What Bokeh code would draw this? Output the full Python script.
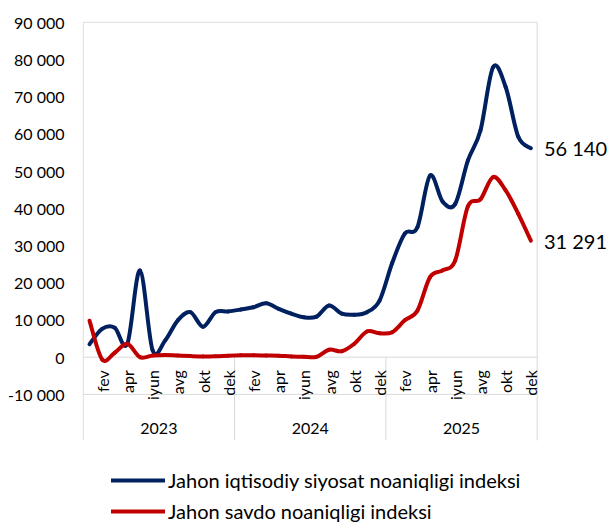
import numpy as np
from bokeh.plotting import figure
from bokeh.models import (ColumnDataSource, FixedTicker, Label, Legend, LegendItem, Range1d)
from bokeh.core.properties import value
from bokeh.embed import file_html
from bokeh.resources import INLINE

# ---------------- data ----------------
years = ["2023", "2024", "2025"]
month_names = ["yan", "fev", "mar", "apr", "may", "iyun",
               "iyul", "avg", "sen", "okt", "noy", "dek"]
shown_months = ["fev", "apr", "iyun", "avg", "okt", "dek"]

# Jahon iqtisodiy siyosat noaniqligi indeksi (monthly, Jan 2023 - Dec 2025)
epu = [3500, 7600, 7900, 3600, 23300, 1900, 4500, 9900, 12100, 8200, 12100, 12300,
       12800, 13400, 14500, 13000, 11700, 10700, 10900, 13900, 11700, 11400, 12100, 15200,
       25300, 33200, 34900, 48800, 41800, 41200, 52800, 60900, 77900, 72600, 59200, 56140]
# Jahon savdo noaniqligi indeksi
tpu = [9800, -600, 1200, 3600, 0, 450, 600, 450, 300, 200, 250, 400,
       500, 500, 450, 400, 200, 100, 100, 2000, 1600, 3600, 6900, 6400,
       6700, 9900, 12500, 21500, 23300, 26000, 40500, 42400, 48400, 44800, 38500, 31291]

series_names = ["Jahon iqtisodiy siyosat noaniqligi indeksi",
                "Jahon savdo noaniqligi indeksi"]
series_colors = ["#002060", "#C00000"]

y_ticks = [-10000, 0, 10000, 20000, 30000, 40000, 50000, 60000, 70000, 80000, 90000]
y_tick_labels = ["-10 000", "0", "10 000", "20 000", "30 000", "40 000",
                 "50 000", "60 000", "70 000", "80 000", "90 000"]

FONT = "Lato"

# ---------------- helpers ----------------
def smooth_segments(xs, ys):
    """Excel-like smoothed line: cubic Bezier segments (Catmull-Rom control points)."""
    x = np.asarray(xs, float)
    y = np.asarray(ys, float)
    n = len(x)
    xp = np.concatenate([[x[0]], x, [x[-1]]])
    yp = np.concatenate([[y[0]], y, [y[-1]]])
    i = np.arange(n - 1)
    return dict(
        x0=xp[i + 1], y0=yp[i + 1], x1=xp[i + 2], y1=yp[i + 2],
        cx0=xp[i + 1] + (xp[i + 2] - xp[i]) / 6.0,
        cy0=yp[i + 1] + (yp[i + 2] - yp[i]) / 6.0,
        cx1=xp[i + 2] - (xp[i + 3] - xp[i + 1]) / 6.0,
        cy1=yp[i + 2] - (yp[i + 3] - yp[i + 1]) / 6.0,
    )

def fmt(v):
    return f"{int(round(v)):,}".replace(",", " ")

n_months = len(epu)
months_idx = np.arange(n_months)

# ---------------- layout constants ----------------
W, H = 610, 525
FRAME_LEFT, FRAME_TOP = 82, 21
FRAME_W = W - FRAME_LEFT
FRAME_H = H - FRAME_TOP
px_per_month = 454 / n_months
x_lo = -0.5 - 0.7 / px_per_month
x_hi = x_lo + FRAME_W / px_per_month
px_per_unit = 37.22 / 10000
y_hi = y_ticks[-1] + 0.7 / px_per_unit
y_lo = y_hi - FRAME_H / px_per_unit
sep_bottom = y_ticks[0] - 46 / px_per_unit   # lower end of category separators
year_label_y = y_ticks[0] - 34 / px_per_unit

p = figure(width=W, height=H, output_backend="svg", toolbar_location=None,
           x_range=Range1d(x_lo, x_hi), y_range=Range1d(y_lo, y_hi),
           min_border_left=FRAME_LEFT, min_border_right=0,
           min_border_top=FRAME_TOP, min_border_bottom=0,
           x_axis_location=None)
p.outline_line_color = None
p.xgrid.visible = False
p.ygrid.visible = False
p.background_fill_color = "white"
p.border_fill_color = "white"

# y axis
ya = p.yaxis[0]
ya.ticker = FixedTicker(ticks=y_ticks)
ya.major_label_overrides = {t: l for t, l in zip(y_ticks, y_tick_labels)}
ya.axis_line_color = None
ya.major_tick_line_color = None
ya.minor_tick_line_color = None
ya.major_tick_out = 0
ya.major_tick_in = 0
ya.minor_tick_out = 0
ya.axis_label_standoff = 0
ya.major_label_standoff = 18
ya.major_label_text_font = FONT
ya.major_label_text_font_size = "16px"
ya.major_label_text_color = "black"

# structural lines (plot border, axis lines, category separators)
grid_col = "#d9d9d9"
left_x, right_x = -0.5, n_months - 0.5
seg_x0 = [left_x, left_x, right_x, left_x, left_x]
seg_y0 = [y_ticks[-1], y_ticks[-1], y_ticks[-1], 0, y_ticks[0]]
seg_x1 = [right_x, left_x, right_x, right_x, right_x]
seg_y1 = [y_ticks[-1], sep_bottom, sep_bottom, 0, y_ticks[0]]
for k in range(1, len(years)):
    seg_x0.append(12 * k - 0.5); seg_x1.append(12 * k - 0.5)
    seg_y0.append(0); seg_y1.append(sep_bottom)
p.segment(x0=seg_x0, y0=seg_y0, x1=seg_x1, y1=seg_y1,
          line_color=grid_col, line_width=1)

# month labels
lab_x, lab_t = [], []
for i in months_idx:
    m = month_names[i % 12]
    if m in shown_months:
        lab_x.append(int(i)); lab_t.append(m)
p.text(x=lab_x, y=[0] * len(lab_x), text=lab_t, angle=np.pi / 2,
       text_align="right", text_baseline="middle", y_offset=13,
       text_font=value(FONT), text_font_size="16px", text_color="black")

# year labels
p.text(x=[12 * k + 5.5 for k in range(len(years))], y=[year_label_y] * len(years),
       text=years, text_align="center", text_baseline="middle",
       text_font=value(FONT), text_font_size="16px", text_color="black")

# series
renderers = []
for ys, col in zip([epu, tpu], series_colors):
    src = ColumnDataSource(smooth_segments(months_idx, ys))
    r = p.bezier(x0="x0", y0="y0", x1="x1", y1="y1", cx0="cx0", cy0="cy0",
                 cx1="cx1", cy1="cy1", source=src, line_color=col,
                 line_width=4, line_cap="round", line_join="round")
    renderers.append(r)
    p.add_layout(Label(x=months_idx[-1], y=ys[-1], text=fmt(ys[-1]), x_offset=13,
                       text_baseline="middle", text_font=FONT,
                       text_font_size="20px", text_color="black"))

legend = Legend(items=[LegendItem(label=nm, renderers=[r])
                       for nm, r in zip(series_names, renderers)],
                location=(29, 2), orientation="vertical",
                padding=0, margin=0, spacing=7,
                glyph_width=54, glyph_height=20, label_height=20,
                label_standoff=3, label_text_font=FONT,
                label_text_font_size="20px", label_text_color="black",
                border_line_color=None, background_fill_alpha=0)
p.add_layout(legend)

open("out.html", "w").write(file_html(p, INLINE))
